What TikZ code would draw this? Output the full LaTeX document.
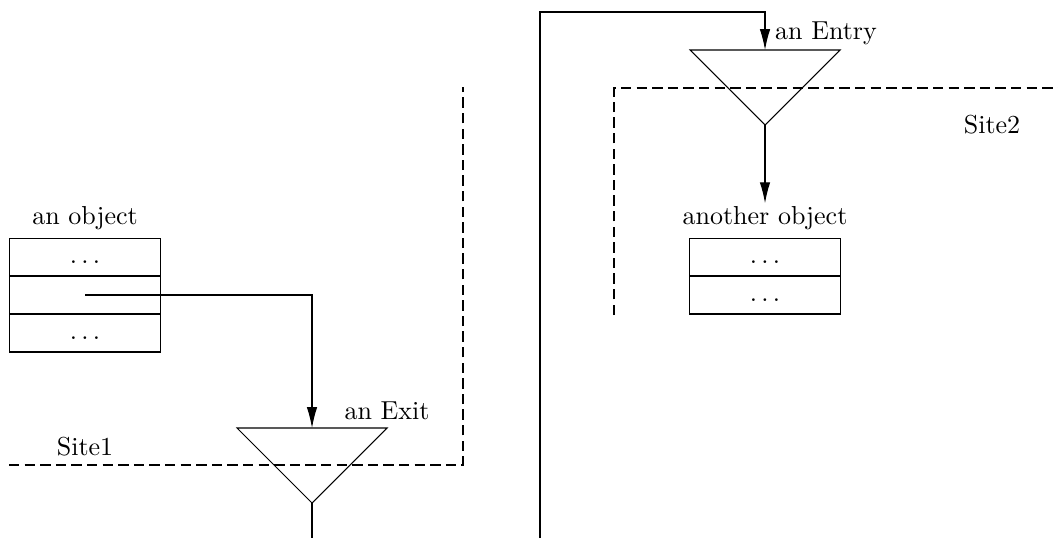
\documentclass[tikz,border=0pt]{standalone}
\usetikzlibrary{arrows.meta, calc}
\begin{document}
\begin{tikzpicture}[x=0.3846pt, y=-0.3846pt,
  field/.style={draw, minimum width=58.1pt, minimum height=14.6pt, inner sep=0pt},
  site/.style={dash pattern=on 4pt off 2pt},
  flow/.style={-{Latex[length=8pt,width=4pt]}}]
  \useasboundingbox (0,0) rectangle (1058,538);

  % Half width of a gate triangle
  \def\half{75}

  % The first site and its object
  \draw[site] (9,465) -- (463,465) -- (463,87);
  \node (site1) at (85,447) {Site1};
  \node (objlabel) at (85,218) {an object};
  \node[field] (obj1) at (85,257) {\strut$\ldots$};
  \node[field] (obj2) at (85,295) {};
  \node[field] (obj3) at (85,333) {\strut$\ldots$};

  % The exit gate
  \coordinate (exit) at (312,428);
  \coordinate (exitout) at (312,538);
  \draw ($(exit)+(-\half,0)$) -- ($(exit)+(\half,0)$)
    -- ($(exit)+(0,\half)$) coordinate (exittip) -- cycle;
  \node (exitlabel) at (387,411) {an Exit};
  \draw[flow] (obj2.center) -| (exit);
  \draw (exittip) -- (exitout);

  % The second site and its object
  \draw[site] (614,315) -- (614,88) -- (1058,88);
  \node (site2) at (992,125) {Site2};
  \node[inner sep=1pt] (otherlabel) at (765,218) {another object};
  \node[field] (obj4) at (765,257) {\strut$\ldots$};
  \node[field] (obj5) at (765,295) {\strut$\ldots$};

  % The entry gate
  \coordinate (entry) at (765,50);
  \coordinate (remote) at (540,538);
  \coordinate (corner) at (540,12);
  \draw ($(entry)+(-\half,0)$) -- ($(entry)+(\half,0)$)
    -- ($(entry)+(0,\half)$) coordinate (entrytip) -- cycle;
  \node (entrylabel) at (826,33) {an Entry};
  \draw[flow] (remote) -- (corner) -| (entry);
  \draw[flow] (entrytip) -- (otherlabel);
\end{tikzpicture}
\end{document}
